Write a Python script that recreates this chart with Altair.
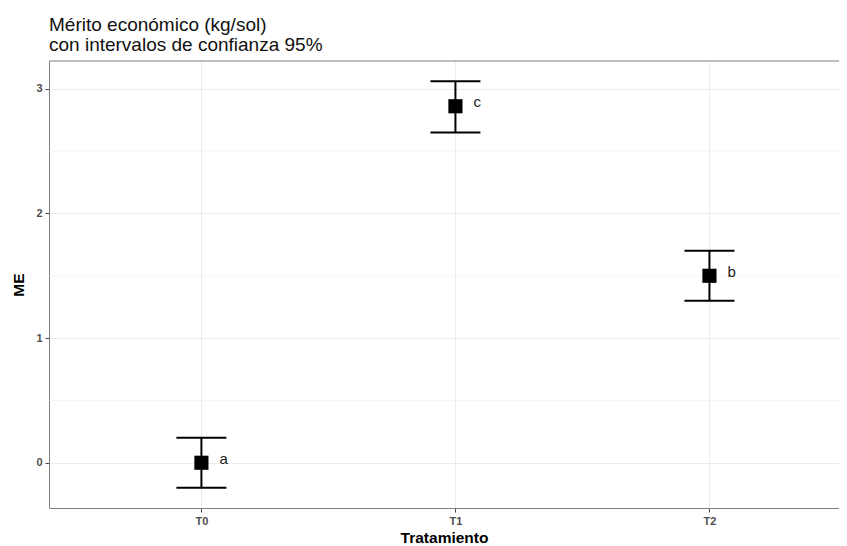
import altair as alt
import pandas as pd

treatments = ["T0", "T1", "T2"]
means = [0.0, 2.86, 1.50]
lower = [-0.20, 2.65, 1.30]
upper = [0.20, 3.06, 1.70]
letters = ["a", "c", "b"]
minor_y = [0.5, 1.5, 2.5]

df = pd.DataFrame({
    "i": list(range(len(treatments))),
    "trat": treatments,
    "me": means,
    "lo": lower,
    "hi": upper,
    "lab": letters,
})
minor_df = pd.DataFrame({"y": minor_y})

labexpr = "[" + ",".join("'%s'" % t for t in treatments) + "][datum.value]"

xdom = [-0.6, 2.51]
ydom = [-0.363, 3.223]

xs = alt.Scale(domain=xdom, nice=False, zero=False)
ys = alt.Scale(domain=ydom, nice=False, zero=False)

xaxis = alt.Axis(values=[0, 1, 2], labelExpr=labexpr, title="Tratamiento",
                 grid=True, gridColor="#ebebeb", gridWidth=1,
                 domainColor="#7f7f7f", domainWidth=1,
                 tickColor="#444444", tickSize=4, labelColor="#4d4d4d",
                 labelFontSize=11, labelFontWeight="bold", labelFont="Liberation Sans",
                 labelPadding=3, titleFont="Liberation Sans", titleFontSize=15.5,
                 titleFontWeight="bold", titleColor="#000000", titlePadding=4)
yaxis = alt.Axis(values=[0, 1, 2, 3], title="ME", format="d",
                 grid=True, gridColor="#ebebeb", gridWidth=1,
                 domainColor="#7f7f7f", domainWidth=1,
                 tickColor="#444444", tickSize=4, labelColor="#4d4d4d",
                 labelFontSize=11, labelFontWeight="bold", labelFont="Liberation Sans",
                 labelPadding=3, titleFont="Liberation Sans", titleFontSize=15.5,
                 titleFontWeight="bold", titleColor="#000000", titlePadding=9)

base = alt.Chart(df)

minor = alt.Chart(minor_df).mark_rule(color="#f2f2f2", strokeWidth=0.7).encode(
    y=alt.Y("y:Q", scale=ys, axis=yaxis),
)

top_border = alt.Chart(minor_df.head(1)).mark_rule(color="#7f7f7f", strokeWidth=1).encode(
    y=alt.value(0),
)

bars = base.mark_rule(color="black", strokeWidth=2).encode(
    x=alt.X("i:Q", scale=xs, axis=xaxis),
    y=alt.Y("lo:Q", scale=ys, axis=yaxis),
    y2="hi:Q",
)
cap_lo = base.mark_rule(color="black", strokeWidth=2, xOffset=-25, x2Offset=25).encode(
    x=alt.X("i:Q", scale=xs), x2="i:Q", y=alt.Y("lo:Q", scale=ys),
)
cap_hi = base.mark_rule(color="black", strokeWidth=2, xOffset=-25, x2Offset=25).encode(
    x=alt.X("i:Q", scale=xs), x2="i:Q", y=alt.Y("hi:Q", scale=ys),
)
pts = base.mark_square(color="black", size=200, opacity=1).encode(
    x=alt.X("i:Q", scale=xs), y=alt.Y("me:Q", scale=ys),
)
txt = base.mark_text(align="left", baseline="middle", dx=18, dy=-4, fontSize=15,
                     font="Liberation Sans", color="#222222").encode(
    x=alt.X("i:Q", scale=xs), y=alt.Y("me:Q", scale=ys), text="lab:N",
)

chart = alt.layer(minor, top_border, bars, cap_lo, cap_hi, pts, txt).properties(
    width=790, height=447,
    autosize=alt.AutoSizeParams(type="none"),
    padding={"left": 41, "top": 53, "right": 0, "bottom": 37},
    title=alt.TitleParams(
        text=["Mérito económico (kg/sol)", "\u00a0con intervalos de confianza 95%"],
        anchor="start", frame="group", fontSize=19, fontWeight="normal",
        font="Liberation Sans", color="#111111", lineHeight=20, offset=6,
    ),
).configure_view(stroke=None)

chart.save("out.html", embed_options={"renderer": "svg", "actions": False})
